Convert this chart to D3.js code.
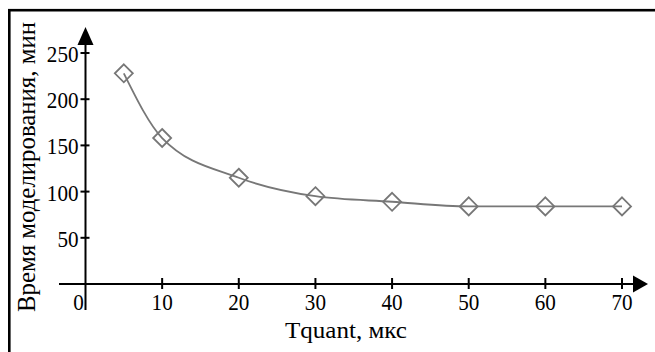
<!DOCTYPE html>
<html><head><meta charset="utf-8">
<script src="https://cdn.jsdelivr.net/npm/d3@7"></script>
<style>body{margin:0;background:#fff}</style>
</head><body><svg id="c" width="655" height="352"></svg>
<script>
const xTicks = [0, 10, 20, 30, 40, 50, 60, 70];
const yTicks = [50, 100, 150, 200, 250];
const tquant = [5, 10, 20, 30, 40, 50, 60, 70];
const simTime = [228, 158, 115, 95, 89, 84, 84, 84];
const xLabel = "Tquant,  мкс";
const yLabel = "Время моделирования,  мин";

const svg = d3.select("#c");
const x = d3.scaleLinear().domain([0, 70]).range([85.5, 622]);
const y = d3.scaleLinear().domain([0, 250]).range([284, 53]);

function txt(s, size, xx, yy) {
  return svg.append("text").attr("x", xx).attr("y", yy).attr("font-size", size)
    .style("font-family", '"Liberation Serif", "Times New Roman", serif').text(s);
}

svg.append("rect").attr("x", 9.3).attr("y", 10.2).attr("width", 660).attr("height", 360)
  .attr("fill", "none").attr("stroke", "#000").attr("stroke-width", 2.6);
svg.append("line").attr("x1", x(0)).attr("x2", x(0)).attr("y1", 44).attr("y2", 310)
  .attr("stroke", "#000").attr("stroke-width", 2);
svg.append("line").attr("x1", 59).attr("x2", 634).attr("y1", y(0)).attr("y2", y(0))
  .attr("stroke", "#000").attr("stroke-width", 2);
svg.append("path").attr("d", `M${x(0)},27 L${x(0)+8},45 L${x(0)-8},45 Z`).attr("fill", "#000");
svg.append("path").attr("d", `M648,${y(0)} L633,${y(0)-8.5} L633,${y(0)+8.5} Z`).attr("fill", "#000");

const sx = 0.88;
xTicks.forEach(t => {
  if (t > 0) svg.append("line").attr("x1", x(t)).attr("x2", x(t)).attr("y1", y(0)-6).attr("y2", y(0)+5)
    .attr("stroke", "#000").attr("stroke-width", 2);
  const tx = t === 0 ? x(0) - 7 : x(t);
  txt(String(t), 24, 0, 0).attr("text-anchor", "middle")
    .attr("transform", `translate(${tx},${y(0)+26}) scale(${sx},1)`);
});
yTicks.forEach(t => {
  svg.append("line").attr("x1", x(0)-5).attr("x2", x(0)+4).attr("y1", y(t)).attr("y2", y(t))
    .attr("stroke", "#000").attr("stroke-width", 2);
  txt(String(t), 24, 0, 0).attr("text-anchor", "end")
    .attr("transform", `translate(${x(0)-7},${y(t)+9}) scale(${sx},1)`);
});

const pts = tquant.map((d, i) => [x(d), y(simTime[i])]);
svg.append("path").attr("d", d3.line().curve(d3.curveMonotoneX)(pts))
  .attr("fill", "none").attr("stroke", "#777").attr("stroke-width", 1.8);
svg.selectAll(".m").data(pts).join("path").attr("class", "m")
  .attr("d", d => `M${d[0]},${d[1]-9} L${d[0]+9},${d[1]} L${d[0]},${d[1]+9} L${d[0]-9},${d[1]} Z`)
  .attr("fill", "none").attr("stroke", "#777").attr("stroke-width", 1.8);

txt(xLabel, 24, 346, 338).attr("text-anchor", "middle")
  .attr("textLength", 122).attr("lengthAdjust", "spacingAndGlyphs");
txt(yLabel, 25, 0, 0).attr("transform", "translate(35,167) rotate(-90)").attr("text-anchor", "middle")
  .attr("textLength", 290).attr("lengthAdjust", "spacingAndGlyphs");
</script></body></html>
